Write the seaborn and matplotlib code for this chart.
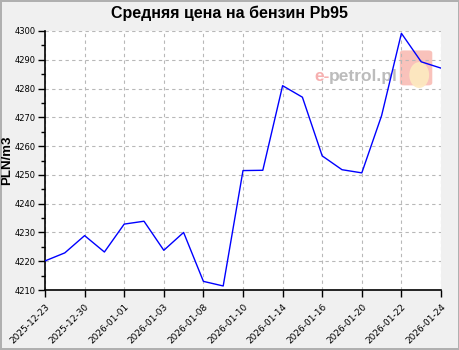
import matplotlib
matplotlib.use("Agg")
import matplotlib.pyplot as plt
import seaborn as sns
import pandas as pd
from matplotlib.ticker import MultipleLocator
from matplotlib.patches import FancyBboxPatch, Ellipse

dates = ["2025-12-23", "2025-12-29", "2025-12-30", "2025-12-31", "2026-01-01",
         "2026-01-02", "2026-01-03", "2026-01-07", "2026-01-08", "2026-01-09",
         "2026-01-10", "2026-01-13", "2026-01-14", "2026-01-15", "2026-01-16",
         "2026-01-19", "2026-01-20", "2026-01-21", "2026-01-22", "2026-01-23",
         "2026-01-24"]
prices = [4220.1, 4222.9, 4228.9, 4223.2, 4232.9, 4233.9, 4223.8, 4230.0, 4213.0,
          4211.4, 4251.5, 4251.6, 4281.0, 4277.0, 4256.6, 4251.8, 4250.7, 4270.6,
          4299.2, 4289.3, 4287.1]
title = "Средняя цена на бензин Pb95"
ylabel = "PLN/m3"

df = pd.DataFrame({"idx": range(len(dates)), "date": dates, "price": prices})

sns.set_theme(style="white")
plt.rcParams['font.family'] = ['DejaVu Sans']
plt.rcParams['text.color'] = 'black'
plt.rcParams['xtick.color'] = 'black'
plt.rcParams['ytick.color'] = 'black'
plt.rcParams['axes.labelcolor'] = 'black'

fig = plt.figure(figsize=(4.6, 3.5), dpi=100)
fig.patch.set_facecolor("#f0f0f0")
fig.patch.set_edgecolor("#b0b0b0")
fig.patch.set_linewidth(1.5)
ax = fig.add_axes([45/460, 1-290/350, (441-45)/460, (290-31)/350])
ax.set_facecolor("white")

# watermark (behind line)
ax.add_patch(FancyBboxPatch((0.896, 0.79), 0.082, 0.135, boxstyle="round,pad=0,rounding_size=0.01",
                            transform=ax.transAxes, facecolor="#f9b8b0", edgecolor="none",
                            alpha=0.85, zorder=0.5))
ax.add_patch(Ellipse((0.945, 0.83), 0.05, 0.1, transform=ax.transAxes,
                     facecolor="#fde9c0", edgecolor="none", alpha=0.95, zorder=0.6))
ax.text(0.68, 0.825, "e-", transform=ax.transAxes, fontsize=12.5, color="#f6b0b0",
        fontweight="bold", va="center", family="Liberation Sans", zorder=0.7)
ax.text(0.716, 0.825, "petrol.pl", transform=ax.transAxes, fontsize=12.5, color="#bcbcbc",
        fontweight="bold", va="center", family="Liberation Sans", zorder=0.7)

sns.lineplot(data=df, x="idx", y="price", ax=ax, color="#0000ff", linewidth=1.0, zorder=3)

ax.set_xlim(0, len(dates)-1)
ax.set_ylim(4210, 4300)
ticks = list(range(0, len(dates), 2))
ax.set_xticks(ticks)
ax.set_xticklabels([dates[i] for i in ticks], rotation=45, ha="right",
                   rotation_mode="anchor", fontsize=6.5)
ax.yaxis.set_major_locator(MultipleLocator(10))
ax.yaxis.set_minor_locator(MultipleLocator(5))
ax.tick_params(axis="y", which="major", length=5, width=1, labelsize=6, pad=2, color="black", direction="out", left=True)
ax.tick_params(axis="y", which="minor", length=3, width=1, color="black", direction="out", left=True)
ax.tick_params(axis="x", which="major", length=5, width=1, color="black", direction="out", bottom=True)

ax.grid(True, which="major", linestyle=(0, (3, 3)), color="#b8b8b8", linewidth=0.8, zorder=1)
ax.set_axisbelow(True)
for s in ["top", "right"]:
    ax.spines[s].set_visible(False)
for s in ["left", "bottom"]:
    ax.spines[s].set_color("black")
    ax.spines[s].set_linewidth(1.2)

ax.set_xlabel("")
ax.set_ylabel(ylabel, fontsize=9.5, fontweight="bold", family="Liberation Sans")
ax.yaxis.set_label_coords((13-45)/396, 0.5)
fig.text(0.5, 1-13/350, title, ha="center", va="center", fontsize=11.5,
         fontweight="bold", family="Liberation Sans")

fig.savefig("out.png", dpi=100, facecolor=fig.get_facecolor(), edgecolor=fig.get_edgecolor())
